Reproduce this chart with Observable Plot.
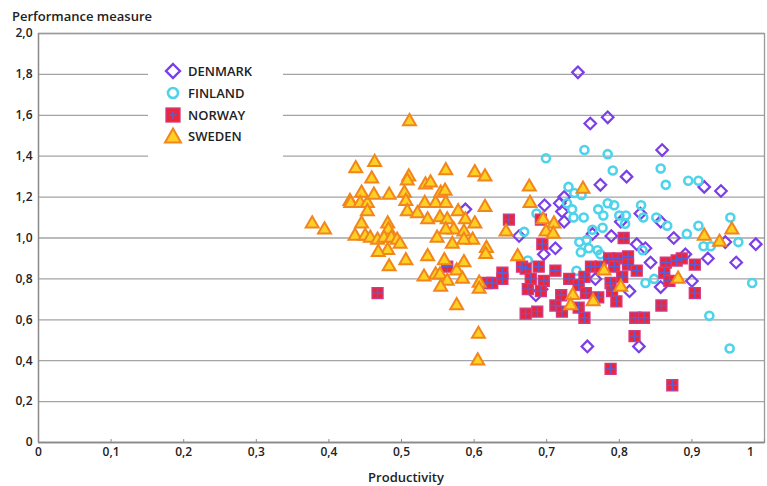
<!DOCTYPE html>
<html><head><meta charset="utf-8">
<script src="https://cdn.jsdelivr.net/npm/d3@7"></script>
<script src="https://cdn.jsdelivr.net/npm/@observablehq/plot@0.6"></script>
<style>
body{margin:0;background:#fff;font-family:"Open Sans",sans-serif;}
#wrap{position:relative;width:767px;height:486px;overflow:hidden;}
#ytitle{position:absolute;left:12px;top:7px;font-size:13px;font-weight:600;color:#222;white-space:nowrap;}
#xtitle{position:absolute;left:0;width:812px;text-align:center;top:468px;font-size:13px;font-weight:600;color:#222;}
#legend{position:absolute;left:148px;top:50px;width:135px;height:110px;background:#fff;}
.lg{position:absolute;left:0;height:20px;display:flex;align-items:center;font-size:13px;font-weight:600;color:#222;}
.lg svg{margin-left:15px;margin-right:5px;}
</style></head>
<body><div id="wrap"><div id="ytitle">Performance measure</div><div id="chart"></div><div id="xtitle">Productivity</div><div id="legend"></div></div>
<script>
const seriesNames = ["DENMARK", "FINLAND", "NORWAY", "SWEDEN"];
const xTicks = [0, 0.1, 0.2, 0.3, 0.4, 0.5, 0.6, 0.7, 0.8, 0.9];
const xLastTick = [1];
const yTicks = [0, 0.2, 0.4, 0.6, 0.8, 1.0, 1.2, 1.4, 1.6, 1.8, 2.0];

const denmarkX = [0.743,0.760,0.784,0.859,0.810,0.774,0.917,0.940,0.697,0.718,0.724,0.721,0.724,0.712,0.696,0.763,0.789,0.829,0.802,0.857,0.875,0.891,0.946,0.988,0.824,0.836,0.843,0.922,0.961,0.857,0.900,0.814,0.767,0.685,0.756,0.827,0.588,0.662,0.693];
const denmarkY = [1.81,1.56,1.59,1.43,1.30,1.26,1.25,1.23,1.16,1.17,1.20,1.13,1.08,0.95,0.92,1.02,1.01,1.12,1.08,1.08,1.00,0.92,0.98,0.97,0.97,0.95,0.88,0.90,0.88,0.76,0.79,0.74,0.80,0.72,0.47,0.47,1.14,1.01,0.75];

const finlandX = [0.699,0.752,0.784,0.791,0.857,0.864,0.895,0.909,0.730,0.738,0.748,0.728,0.735,0.737,0.751,0.771,0.784,0.793,0.778,0.800,0.809,0.830,0.833,0.851,0.866,0.808,0.953,0.909,0.893,0.916,0.926,0.964,0.669,0.686,0.763,0.777,0.745,0.755,0.758,0.770,0.774,0.747,0.741,0.832,0.836,0.848,0.983,0.924,0.952,0.674];
const finlandY = [1.39,1.43,1.41,1.33,1.34,1.26,1.28,1.28,1.25,1.22,1.21,1.17,1.14,1.10,1.10,1.14,1.17,1.16,1.11,1.11,1.11,1.16,1.10,1.10,1.06,1.07,1.10,1.06,1.02,0.96,0.96,0.98,1.03,1.12,1.04,1.05,0.98,0.99,0.95,0.94,0.92,0.93,0.84,0.94,0.78,0.80,0.78,0.62,0.46,0.89];

const norwayX = [0.467,0.563,0.648,0.692,0.694,0.618,0.625,0.639,0.639,0.666,0.671,0.689,0.678,0.696,0.674,0.692,0.671,0.687,0.806,0.712,0.731,0.752,0.761,0.786,0.798,0.812,0.812,0.774,0.793,0.824,0.804,0.788,0.720,0.712,0.744,0.754,0.744,0.790,0.771,0.796,0.721,0.752,0.864,0.879,0.886,0.904,0.862,0.869,0.904,0.858,0.822,0.834,0.821,0.788,0.873];
const norwayY = [0.73,0.86,1.09,1.09,0.97,0.78,0.78,0.83,0.80,0.86,0.85,0.86,0.80,0.79,0.75,0.74,0.63,0.64,1.00,0.84,0.80,0.81,0.86,0.90,0.90,0.91,0.87,0.86,0.86,0.84,0.81,0.78,0.72,0.67,0.77,0.73,0.66,0.74,0.71,0.69,0.64,0.61,0.88,0.89,0.90,0.87,0.83,0.79,0.73,0.67,0.61,0.61,0.52,0.36,0.28];

const swedenX = [0.437,0.463,0.459,0.445,0.429,0.430,0.443,0.453,0.453,0.462,0.483,0.377,0.394,0.445,0.436,0.450,0.457,0.481,0.482,0.467,0.476,0.486,0.494,0.498,0.481,0.468,0.506,0.483,0.510,0.508,0.533,0.540,0.561,0.504,0.506,0.508,0.522,0.532,0.536,0.547,0.554,0.560,0.561,0.553,0.563,0.578,0.572,0.561,0.549,0.570,0.536,0.559,0.547,0.531,0.553,0.563,0.554,0.576,0.576,0.511,0.601,0.615,0.676,0.615,0.677,0.588,0.601,0.586,0.598,0.586,0.644,0.617,0.616,0.660,0.586,0.584,0.607,0.607,0.606,0.605,0.750,0.695,0.710,0.699,0.709,0.917,0.938,0.955,0.779,0.802,0.736,0.764,0.733,0.881];
const swedenY = [1.34,1.37,1.29,1.22,1.18,1.17,1.17,1.17,1.13,1.21,1.21,1.07,1.04,1.07,1.01,1.01,1.00,1.07,1.04,0.99,1.00,1.00,0.99,0.97,0.94,0.93,0.89,0.86,1.30,1.28,1.26,1.27,1.33,1.22,1.18,1.13,1.12,1.17,1.09,1.17,1.22,1.23,1.17,1.10,1.09,1.13,1.04,1.04,1.00,0.97,0.91,0.89,0.82,0.81,0.82,0.79,0.76,0.67,0.84,1.57,1.32,1.30,1.25,1.15,1.17,1.09,1.07,1.03,0.99,0.99,1.03,0.95,0.92,0.91,0.88,0.80,0.78,0.75,0.53,0.40,1.24,1.09,1.07,1.03,1.02,1.01,0.98,1.04,0.84,0.76,0.72,0.69,0.67,0.80];

const toRows = (xs, ys) => xs.map((x, i) => ({x, y: ys[i]}));
const denmark = toRows(denmarkX, denmarkY);
const finland = toRows(finlandX, finlandY);
const norway = toRows(norwayX, norwayY);
const sweden = toRows(swedenX, swedenY);

const comma = d => d === 0 ? "0" : (Number.isInteger(d) && d === 1 ? "1" : d.toFixed(1).replace(".", ","));
const ycomma = d => d === 0 ? "0" : d.toFixed(1).replace(".", ",");

const C = {
  den: "#7a3fe6", fin: "#4dd3ea", norFill: "#ec2637", norStroke: "#d23a86", plus: "#5a5ed8",
  sweFill: "#fdd024", sweStroke: "#f2851c"
};

const chart = Plot.plot({
  width: 767, height: 486,
  marginLeft: 38, marginRight: 3, marginTop: 33, marginBottom: 44,
  x: {domain: [0, 1]},
  y: {domain: [0, 2]},
  style: {fontFamily: "Open Sans, sans-serif", fontSize: "12px", fontWeight: 600, color: "#222", background: "#fff"},
  marks: [
    Plot.gridY(yTicks, {stroke: "#a4a4a4", strokeOpacity: 1, strokeWidth: 1.3}),
    Plot.frame({stroke: "#9a9a9a", strokeWidth: 1.3}),
    Plot.ruleY([0], {stroke: "#8a8a8a", strokeWidth: 1.6}),
    Plot.ruleX([0], {stroke: "#8a8a8a", strokeWidth: 1.3}),
    Plot.axisY(yTicks, {tickSize: 0, tickPadding: 6, tickFormat: ycomma, label: null, fill: "#222"}),
    Plot.axisX(xTicks.concat(xLastTick), {tickSize: 4, dy: -3, tickFormat: () => "", label: null, stroke: "#8a8a8a"}),
    Plot.axisX(xTicks, {tickSize: 0, tickPadding: 5, tickFormat: comma, label: null, fill: "#222"}),
    Plot.axisX(xLastTick, {tickSize: 0, tickPadding: 5, dx: -14, tickFormat: comma, label: null, fill: "#222"}),
    Plot.dot(denmark, {x: "x", y: "y", symbol: "diamond2", r: 5.2, stroke: C.den, strokeWidth: 2.2, fill: "none"}),
    Plot.dot(finland, {x: "x", y: "y", symbol: "circle", r: 4, stroke: C.fin, strokeWidth: 2.6, fill: "none"}),
    Plot.dot(norway, {x: "x", y: "y", symbol: "square", r: 6.2, fill: C.norFill, stroke: C.norStroke, strokeWidth: 1.3}),
    Plot.dot(norway, {x: "x", y: "y", symbol: "plus", r: 3.6, stroke: C.plus, strokeWidth: 1.4}),
    Plot.dot(sweden, {x: "x", y: "y", symbol: "triangle", r: 4.8, fill: C.sweFill, stroke: C.sweStroke, strokeWidth: 2})
  ]
});
document.getElementById("chart").appendChild(chart);

// Legend
const markers = {
  DENMARK: `<svg width="20" height="20" viewBox="-10 -10 20 20"><path d="M0,-7L7,0L0,7L-7,0Z" fill="none" stroke="${C.den}" stroke-width="2.4"/></svg>`,
  FINLAND: `<svg width="20" height="20" viewBox="-10 -10 20 20"><circle r="5" fill="none" stroke="${C.fin}" stroke-width="2.6"/></svg>`,
  NORWAY: `<svg width="20" height="20" viewBox="-10 -10 20 20"><rect x="-7" y="-7" width="14" height="14" fill="${C.norFill}" stroke="${C.norStroke}" stroke-width="1.3"/><path d="M-4,0H4M0,-4V4" stroke="${C.plus}" stroke-width="1.6"/></svg>`,
  SWEDEN: `<svg width="20" height="20" viewBox="-10 -10 20 20"><path d="M0,-7.5L8,6.5L-8,6.5Z" fill="${C.sweFill}" stroke="${C.sweStroke}" stroke-width="2"/></svg>`
};
const lg = document.getElementById("legend");
const rowTops = [11, 33, 55, 76];
seriesNames.forEach((name, i) => {
  const d = document.createElement("div");
  d.className = "lg";
  d.style.top = rowTops[i] + "px";
  d.innerHTML = markers[name] + `<span>${name}</span>`;
  lg.appendChild(d);
});
</script>
</body></html>
